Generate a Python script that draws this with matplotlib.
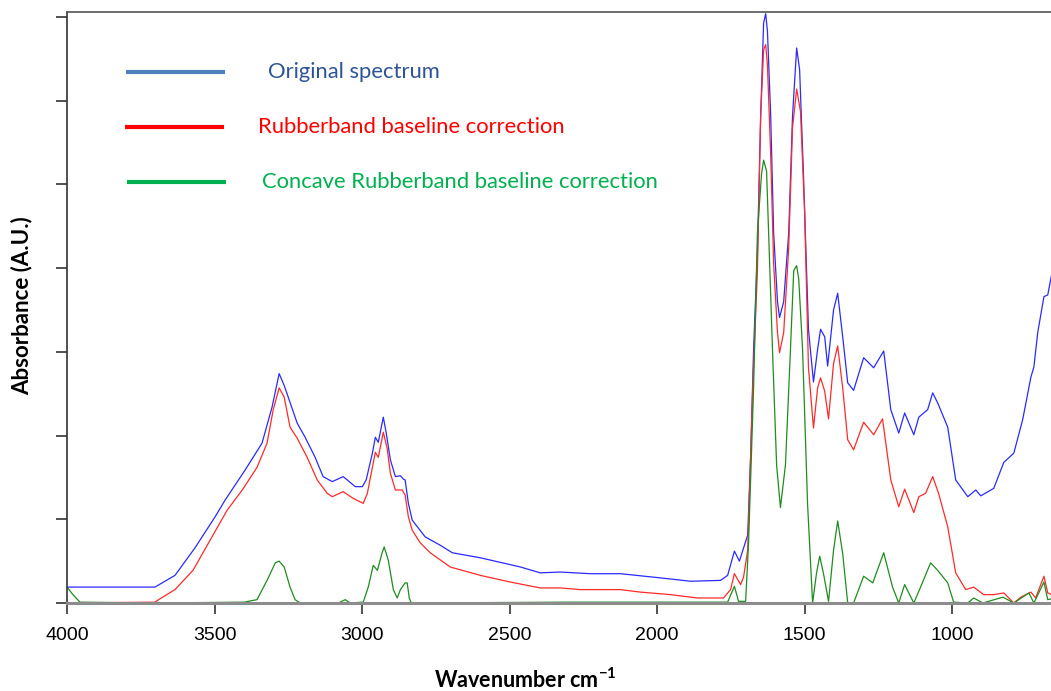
import matplotlib.pyplot as plt

# FTIR spectra: wavenumber (cm-1) and absorbance pairs
orig_wn = [4000, 3702, 3634, 3566, 3498, 3464, 3396, 3339, 3305, 3281, 3264, 3220, 3193, 3159,
           3132, 3101, 3064, 3023, 2999, 2986, 2965, 2955, 2945, 2928, 2918, 2904, 2887, 2870,
           2860, 2854, 2843, 2830, 2786, 2735, 2694, 2599, 2463, 2396, 2328, 2226, 2124, 1989,
           1887, 1785, 1761, 1738, 1721, 1704, 1693, 1683, 1673, 1660, 1649, 1639, 1632, 1626,
           1615, 1605, 1592, 1585, 1571, 1554, 1541, 1527, 1517, 1504, 1487, 1470, 1456, 1446,
           1432, 1422, 1402, 1388, 1371, 1354, 1334, 1300, 1266, 1232, 1208, 1181, 1161, 1130,
           1113, 1083, 1066, 1049, 1015, 988, 947, 920, 903, 859, 825, 791, 761, 733, 723, 710,
           689, 676, 662]
orig_abs = [0.019, 0.019, 0.033, 0.066, 0.103, 0.123, 0.159, 0.191, 0.234, 0.274, 0.260, 0.215,
            0.198, 0.174, 0.151, 0.145, 0.151, 0.139, 0.139, 0.147, 0.179, 0.198, 0.192, 0.222,
            0.203, 0.171, 0.151, 0.152, 0.148, 0.147, 0.119, 0.099, 0.079, 0.069, 0.060, 0.054,
            0.043, 0.036, 0.037, 0.035, 0.035, 0.030, 0.026, 0.027, 0.033, 0.062, 0.050, 0.069,
            0.081, 0.174, 0.303, 0.419, 0.582, 0.693, 0.704, 0.683, 0.582, 0.442, 0.360, 0.341,
            0.360, 0.442, 0.582, 0.663, 0.637, 0.513, 0.327, 0.264, 0.303, 0.327, 0.318, 0.283,
            0.350, 0.370, 0.318, 0.263, 0.254, 0.293, 0.281, 0.301, 0.231, 0.203, 0.227, 0.201,
            0.222, 0.231, 0.251, 0.239, 0.210, 0.147, 0.127, 0.135, 0.128, 0.137, 0.168, 0.179,
            0.219, 0.270, 0.282, 0.323, 0.366, 0.368, 0.394]

rb_wn = [4000, 3702, 3685, 3634, 3573, 3515, 3457, 3406, 3356, 3322, 3301, 3281, 3264, 3244,
         3220, 3186, 3152, 3118, 3101, 3064, 3030, 2996, 2982, 2965, 2955, 2945, 2928, 2915,
         2904, 2887, 2864, 2854, 2843, 2830, 2803, 2769, 2701, 2599, 2497, 2396, 2328, 2260,
         2124, 2056, 1955, 1863, 1775, 1751, 1738, 1717, 1707, 1693, 1676, 1660, 1649, 1639,
         1632, 1626, 1615, 1605, 1592, 1585, 1571, 1554, 1541, 1527, 1514, 1500, 1487, 1470,
         1456, 1446, 1432, 1419, 1402, 1388, 1371, 1354, 1334, 1300, 1266, 1236, 1208, 1181,
         1161, 1130, 1113, 1090, 1066, 1046, 1015, 988, 954, 927, 893, 859, 825, 791, 767, 733,
         717, 689, 676, 662]
rb_abs = [0.000, 0.001, 0.005, 0.016, 0.039, 0.075, 0.111, 0.135, 0.162, 0.191, 0.231, 0.257,
          0.246, 0.210, 0.197, 0.174, 0.147, 0.131, 0.127, 0.133, 0.125, 0.119, 0.131, 0.162,
          0.180, 0.174, 0.204, 0.185, 0.155, 0.135, 0.135, 0.129, 0.103, 0.087, 0.072, 0.060,
          0.043, 0.033, 0.025, 0.018, 0.018, 0.016, 0.016, 0.013, 0.010, 0.006, 0.006, 0.016,
          0.035, 0.022, 0.031, 0.063, 0.257, 0.397, 0.582, 0.661, 0.667, 0.642, 0.535, 0.405,
          0.323, 0.299, 0.323, 0.424, 0.568, 0.614, 0.587, 0.466, 0.281, 0.209, 0.257, 0.269,
          0.253, 0.220, 0.286, 0.307, 0.257, 0.195, 0.183, 0.216, 0.201, 0.220, 0.147, 0.115,
          0.136, 0.108, 0.127, 0.131, 0.151, 0.131, 0.091, 0.036, 0.016, 0.019, 0.010, 0.010,
          0.012, 0.000, 0.007, 0.013, 0.006, 0.032, 0.012, 0.010]

crb_wn = [4000, 3980, 3956, 3700, 3400, 3356, 3322, 3294, 3281, 3264, 3244, 3227, 3210, 3080,
          3057, 3040, 2996, 2979, 2962, 2948, 2932, 2925, 2911, 2894, 2881, 2870, 2854, 2847,
          2840, 2833, 2300, 1761, 1738, 1724, 1700, 1690, 1673, 1660, 1646, 1639, 1629, 1622,
          1609, 1595, 1582, 1565, 1548, 1537, 1527, 1520, 1507, 1490, 1473, 1460, 1449, 1436,
          1419, 1402, 1388, 1371, 1354, 1334, 1300, 1269, 1232, 1202, 1181, 1161, 1130, 1107,
          1073, 1049, 1015, 995, 947, 927, 896, 828, 791, 740, 723, 689, 676, 662]
crb_abs = [0.019, 0.010, 0.001, 0.000, 0.001, 0.004, 0.027, 0.048, 0.050, 0.043, 0.019, 0.004,
           0.000, 0.000, 0.004, 0.000, 0.001, 0.019, 0.045, 0.039, 0.060, 0.067, 0.051, 0.016,
           0.006, 0.016, 0.024, 0.024, 0.006, 0.000, 0.001, 0.001, 0.020, 0.002, 0.002, 0.072,
           0.257, 0.442, 0.513, 0.529, 0.516, 0.442, 0.303, 0.165, 0.114, 0.165, 0.303, 0.397,
           0.403, 0.387, 0.303, 0.118, 0.000, 0.035, 0.056, 0.035, 0.002, 0.063, 0.098, 0.059,
           0.000, 0.000, 0.032, 0.024, 0.060, 0.019, 0.000, 0.022, 0.000, 0.019, 0.048, 0.039,
           0.024, 0.001, 0.000, 0.006, 0.000, 0.007, 0.000, 0.012, 0.000, 0.025, 0.004, 0.005]

labels = ['Original spectrum', 'Rubberband baseline correction',
          'Concave Rubberband baseline correction']
x_ticks = [4000, 3500, 3000, 2500, 2000, 1500, 1000]
y_ticks = [0.0, 0.1, 0.2, 0.3, 0.4, 0.5, 0.6, 0.7]

plt.rcParams['mathtext.fontset'] = 'custom'
plt.rcParams['mathtext.rm'] = 'Lato'
plt.rcParams['mathtext.bf'] = 'Lato:bold'

fig = plt.figure(figsize=(10.51, 6.91), dpi=100)
ax = fig.add_axes([67 / 1051, 88 / 691, 984 / 1051, 591 / 691])

ax.plot(orig_wn, orig_abs, color='#2a2aff', lw=0.9)
ax.plot(rb_wn, rb_abs, color='#ff2a2a', lw=0.9)
ax.plot(crb_wn, crb_abs, color='#1f8c1f', lw=0.9)

ax.set_xlim(4000, 665)
ax.set_ylim(0, 0.706)
ax.set_xticks(x_ticks)
ax.set_xticklabels([str(t) for t in x_ticks], fontfamily='Liberation Sans', fontsize=14)
ax.set_yticks(y_ticks)
ax.set_yticklabels([])
ax.tick_params(axis='x', direction='out', length=8, width=1.2, color='#333333', pad=9)
ax.tick_params(axis='y', direction='out', length=8, width=1.2, color='#333333')

ax.spines['right'].set_visible(False)
ax.spines['left'].set_color('#333333')
ax.spines['left'].set_linewidth(1.2)
ax.spines['top'].set_color('#555555')
ax.spines['top'].set_linewidth(1.2)
ax.spines['bottom'].set_color('#8c8c8c')
ax.spines['bottom'].set_linewidth(2.2)

ax.set_xlabel(r'Wavenumber cm$^{\mathbf{-1}}$', family='Lato', fontweight='bold',
              fontsize=15.5, va='center')
ax.xaxis.set_label_coords(0.4654, -0.13)
ax.set_ylabel('Absorbance (A.U.)', family='Lato', fontweight='bold', fontsize=16, va='center')
ax.yaxis.set_label_coords(-0.0457, 0.504)

# hand-made legend: thick sample lines with coloured captions
legend_line_colors = ['#4f81bd', '#ff0000', '#00b050']
legend_text_colors = ['#2f5496', '#ff0000', '#00b050']
legend_y = [0.8985, 0.8054, 0.7124]
legend_x0 = [0.0600, 0.0589, 0.0610]
legend_tx = [0.2043, 0.1941, 0.1982]
for i in range(3):
    ax.plot([legend_x0[i], legend_x0[i] + 0.1006], [legend_y[i], legend_y[i]],
            transform=ax.transAxes, color=legend_line_colors[i], lw=3, solid_capstyle='butt')
    ax.text(legend_tx[i], legend_y[i], labels[i], transform=ax.transAxes,
            color=legend_text_colors[i], family='Lato', fontsize=15.8, va='center')

fig.savefig('out.png', dpi=100)
